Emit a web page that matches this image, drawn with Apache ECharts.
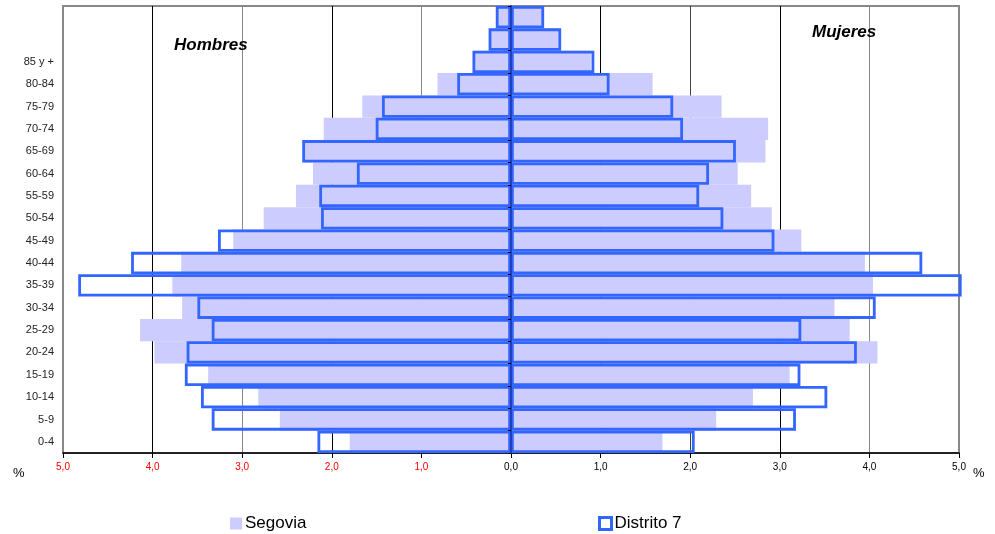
<!DOCTYPE html>
<html>
<head>
<meta charset="utf-8">
<script src="https://cdn.jsdelivr.net/npm/echarts@6/dist/echarts.min.js"></script>
<style>html,body{margin:0;padding:0;background:#fff;}#c{width:995px;height:534px;}</style>
</head>
<body>
<div id="c"></div>
<script>
// Age groups (bottom to top); top two rows have no label in the original
const categories = ['0-4','5-9','10-14','15-19','20-24','25-29','30-34','35-39','40-44','45-49','50-54','55-59','60-64','65-69','70-74','75-79','80-84','85 y +','',' '];
// Percent of population
const segoviaHombres = [1.80, 2.58, 2.82, 3.38, 3.98, 4.14, 3.67, 3.78, 3.68, 3.10, 2.76, 2.40, 2.21, 2.30, 2.09, 1.66, 0.82, 0.42, 0.24, 0.16];
const segoviaMujeres = [1.69, 2.29, 2.70, 3.11, 4.09, 3.78, 3.61, 4.04, 3.95, 3.24, 2.91, 2.68, 2.53, 2.84, 2.87, 2.35, 1.58, 0.89, 0.53, 0.35];
const distritoHombres = [2.16, 3.34, 3.46, 3.64, 3.62, 3.34, 3.50, 4.83, 4.24, 3.27, 2.12, 2.14, 1.72, 2.33, 1.51, 1.44, 0.60, 0.43, 0.25, 0.17];
const distritoMujeres = [2.05, 3.18, 3.53, 3.23, 3.86, 3.24, 4.07, 5.03, 4.59, 2.94, 2.37, 2.10, 2.21, 2.51, 1.92, 1.81, 1.10, 0.93, 0.56, 0.37];

const SEG = '#ccccff';
const DIS = '#3366ff';
const FONT = "'Liberation Sans', Arial, sans-serif";

const chart = echarts.init(document.getElementById('c'), null, {renderer: 'canvas'});

function segSeries(data) {
  return {
    name: 'Segovia', type: 'bar', yAxisIndex: 0, data: data,
    barWidth: '100%', barGap: '-100%', barCategoryGap: 0,
    itemStyle: {color: SEG}, z: 2, silent: true
  };
}
function disSeries(data) {
  return {
    name: 'Distrito 7', type: 'bar', yAxisIndex: 0, data: data,
    barWidth: '100%', barGap: '-100%', barCategoryGap: 0, clip: false,
    itemStyle: {color: 'rgba(0,0,0,0)', borderColor: DIS, borderWidth: 2.8},
    z: 3, silent: true
  };
}

chart.setOption({
  animation: false,
  backgroundColor: '#fff',
  textStyle: {fontFamily: FONT},
  grid: {left: 63, right: 36, top: 6, bottom: 81, show: true, borderColor: '#888', borderWidth: 2, backgroundColor: 'transparent'},
  xAxis: {
    type: 'value', min: -5, max: 5, interval: 1,
    axisLine: {show: true, onZero: false, lineStyle: {color: '#000', width: 1.5}},
    axisTick: {show: true, length: 5, lineStyle: {color: '#000'}},
    splitLine: {show: true, lineStyle: {color: ['#888','#000','#888','#000','#888','#000','#000','#444','#000','#888','#888'], width: 1}},
    axisLabel: {
      margin: 9, fontSize: 10, fontFamily: "'Liberation Sans Narrow', 'Liberation Sans', Arial, sans-serif",
      formatter: v => Math.abs(v).toFixed(1).replace('.', ','),
      color: v => (v < 0 ? '#ff0000' : '#000')
    }
  },
  yAxis: [
    {
      type: 'category', data: categories, position: 'left',
      axisLine: {show: false, onZero: false},
      axisTick: {show: false},
      axisLabel: {margin: 9, fontSize: 11, color: '#222', fontFamily: FONT}
    },
    {
      type: 'category', data: categories, position: 'left', z: 10,
      axisLine: {show: true, onZero: true, lineStyle: {color: '#1f3fbf', width: 2}},
      axisTick: {show: true, length: 3, lineStyle: {color: '#000'}},
      axisLabel: {show: false},
      splitLine: {show: false}
    }
  ],
  legend: [
    {
      data: ['Segovia'], left: 225, top: 510, itemWidth: 12, itemHeight: 12,
      icon: 'rect', textStyle: {fontSize: 17, color: '#000', fontFamily: FONT, padding: [0,0,0,-2]},
      itemStyle: {color: SEG, borderWidth: 0}
    },
    {
      data: ['Distrito 7'], left: 593, top: 510, itemWidth: 12, itemHeight: 12,
      icon: 'rect', textStyle: {fontSize: 17, color: '#000', fontFamily: FONT, padding: [0,0,0,-2]},
      itemStyle: {color: '#fff', borderColor: DIS, borderWidth: 3}
    }
  ],
  graphic: [
    {type: 'text', left: 174, top: 37, z: 20, style: {text: 'Hombres', font: 'italic bold 17px ' + FONT, fill: '#000'}},
    {type: 'text', left: 812, top: 24, z: 20, style: {text: 'Mujeres', font: 'italic bold 17px ' + FONT, fill: '#000'}},
    {type: 'text', left: 13, top: 467, style: {text: '%', font: '13px ' + FONT, fill: '#000'}},
    {type: 'text', left: 973, top: 467, style: {text: '%', font: '13px ' + FONT, fill: '#000'}}
  ],
  series: [
    segSeries(segoviaHombres.map(v => -v)),
    segSeries(segoviaMujeres),
    disSeries(distritoHombres.map(v => -v)),
    disSeries(distritoMujeres)
  ]
});
</script>
</body>
</html>
